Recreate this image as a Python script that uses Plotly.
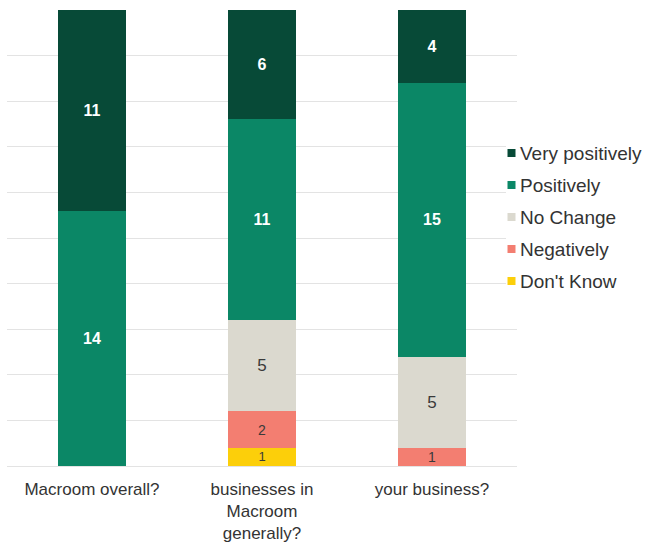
import plotly.graph_objects as go

# Survey responses per question (counts)
categories = ["Macroom overall?", "businesses in<br>Macroom<br>generally?", "your business?"]
series_names = ["Don't Know", "Negatively", "No Change", "Positively", "Very positively"]
dont_know = [None, 1, None]
negatively = [None, 2, 1]
no_change = [None, 5, 5]
positively = [14, 11, 15]
very_positively = [11, 6, 4]

series_values = [dont_know, negatively, no_change, positively, very_positively]
colors = ["#fccf0a", "#f37e71", "#dbd9cf", "#0b8766", "#074a37"]
text_colors = ["#3a3a3a", "#3a3a3a", "#3a3a3a", "#ffffff", "#ffffff"]
text_sizes = [13, 14, 17, 16, 16]
text_weights = ["normal", "normal", "normal", "bold", "bold"]

FONT = "Arial, Liberation Sans, sans-serif"
W, H = 646, 546
ML, MR, MT, MB = 7, 129, 10, 80
PW, PH = W - ML - MR, H - MT - MB

fig = go.Figure()
for name, vals, col, tcol, tsize, tw in zip(series_names, series_values, colors,
                                            text_colors, text_sizes, text_weights):
    fig.add_trace(go.Bar(
        name=name, x=categories, y=vals,
        marker=dict(color=col, line=dict(width=0)),
        texttemplate="%{y}", textposition="inside",
        insidetextanchor="middle", textangle=0, constraintext="none",
        textfont=dict(color=tcol, size=tsize, family=FONT, weight=tw),
        showlegend=False, hoverinfo="skip",
    ))

def px_x(p):
    return (p - ML) / PW

def px_y(p):
    return (MT + PH - p) / PH

shapes = []
annotations = []
# white backing behind the legend block
shapes.append(dict(type="rect", xref="paper", yref="paper",
                   x0=px_x(506), x1=px_x(W), y0=px_y(298), y1=px_y(138),
                   fillcolor="white", line=dict(width=0), layer="above"))
# legend, top entry first
legend_order = list(range(len(series_names)))[::-1]
for k, i in enumerate(legend_order):
    cy = 153 + 32 * k
    shapes.append(dict(type="rect", xref="paper", yref="paper",
                       x0=px_x(507.5), x1=px_x(515.5), y0=px_y(cy + 4), y1=px_y(cy - 4),
                       fillcolor=colors[i], line=dict(width=0), layer="above"))
    annotations.append(dict(text=series_names[i], xref="paper", yref="paper",
                            x=px_x(518), y=px_y(cy), xanchor="left", yanchor="middle",
                            showarrow=False, font=dict(size=19, color="#333333", family=FONT)))

fig.update_layout(
    barmode="stack", bargap=0.6,
    width=W, height=H,
    margin=dict(l=ML, r=MR, t=MT, b=MB, autoexpand=False),
    paper_bgcolor="white", plot_bgcolor="white",
    font=dict(family=FONT, color="#333333"),
    shapes=shapes, annotations=annotations,
    xaxis=dict(showgrid=False, showline=False, ticks="", ticklen=0,
               ticklabelstandoff=11, automargin=False,
               tickfont=dict(size=17, color="#333333", family=FONT)),
    yaxis=dict(range=[0, 25], dtick=2.5, showticklabels=False, showgrid=True,
               gridcolor="#e3e3e3", gridwidth=1, zeroline=True, zerolinecolor="#e3e3e3",
               zerolinewidth=1, showline=False, ticks="", automargin=False),
)

fig.write_html("out.html")
